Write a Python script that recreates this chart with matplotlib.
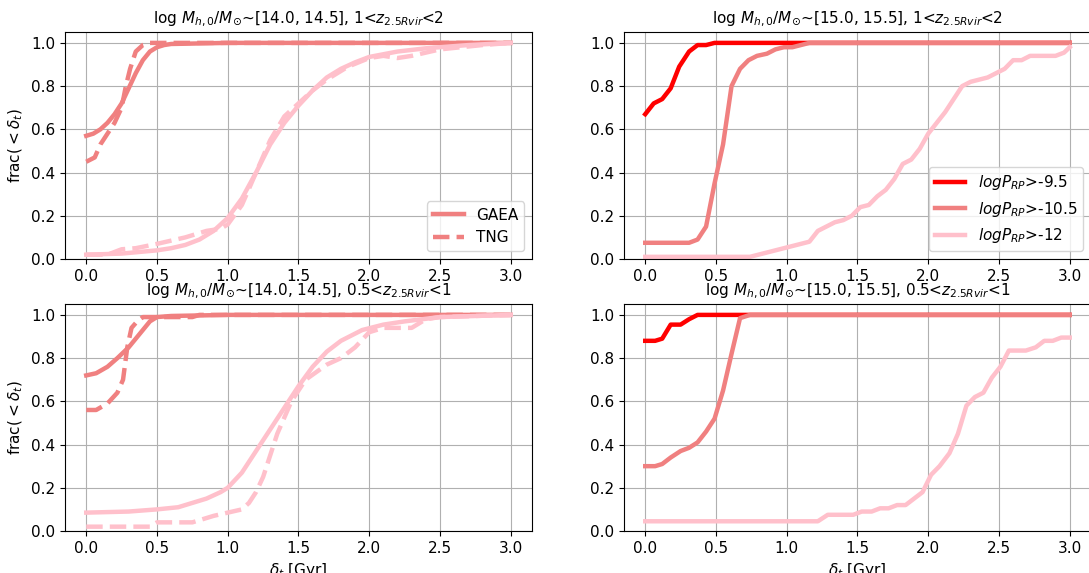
import matplotlib
matplotlib.use("Agg")
import matplotlib.pyplot as plt

plt.rcParams['font.size'] = 11

# ---- top left: logMh 14-14.5, 1<z<2 ----
tl_gaea_hi_x = [0.0, 0.05, 0.1, 0.15, 0.2, 0.25, 0.3, 0.35, 0.4, 0.45, 0.5, 0.55, 0.6, 1.0, 3.0]
tl_gaea_hi_y = [0.57, 0.58, 0.60, 0.63, 0.67, 0.72, 0.79, 0.86, 0.92, 0.96, 0.98, 0.99, 0.995, 1.0, 1.0]
tl_tng_hi_x = [0.0, 0.06, 0.1, 0.15, 0.2, 0.25, 0.28, 0.31, 0.35, 0.4, 0.45, 3.0]
tl_tng_hi_y = [0.45, 0.47, 0.53, 0.58, 0.63, 0.70, 0.80, 0.88, 0.96, 0.99, 1.0, 1.0]
tl_gaea_lo_x = [0.0, 0.25, 0.5, 0.6, 0.7, 0.8, 0.9, 1.0, 1.1, 1.2, 1.3, 1.4, 1.5, 1.6, 1.7, 1.8, 1.9, 2.0, 2.2, 2.4, 2.7, 3.0]
tl_gaea_lo_y = [0.02, 0.025, 0.04, 0.05, 0.065, 0.09, 0.13, 0.19, 0.28, 0.40, 0.53, 0.63, 0.71, 0.78, 0.84, 0.88, 0.91, 0.935, 0.96, 0.975, 0.99, 1.0]
tl_tng_lo_x = [0.0, 0.15, 0.25, 0.35, 0.5, 0.7, 0.85, 0.95, 1.0, 1.1, 1.2, 1.3, 1.4, 1.5, 1.6, 1.7, 1.85, 2.0, 2.1, 2.2, 2.3, 2.5, 2.8, 3.0]
tl_tng_lo_y = [0.02, 0.02, 0.045, 0.05, 0.07, 0.10, 0.13, 0.14, 0.16, 0.25, 0.40, 0.55, 0.66, 0.72, 0.78, 0.83, 0.89, 0.93, 0.94, 0.93, 0.94, 0.97, 0.99, 1.0]

# ---- bottom left: logMh 14-14.5, 0.5<z<1 ----
bl_gaea_hi_x = [0.0, 0.07, 0.15, 0.22, 0.3, 0.35, 0.4, 0.45, 0.5, 0.6, 1.0, 3.0]
bl_gaea_hi_y = [0.72, 0.73, 0.76, 0.80, 0.85, 0.89, 0.93, 0.97, 0.99, 0.995, 1.0, 1.0]
bl_tng_hi_x = [0.0, 0.07, 0.15, 0.22, 0.26, 0.29, 0.32, 0.36, 0.4, 0.75, 0.8, 3.0]
bl_tng_hi_y = [0.56, 0.56, 0.59, 0.64, 0.70, 0.85, 0.94, 0.97, 0.99, 0.99, 1.0, 1.0]
bl_gaea_lo_x = [0.0, 0.3, 0.5, 0.65, 0.75, 0.85, 0.95, 1.0, 1.1, 1.2, 1.3, 1.4, 1.5, 1.6, 1.7, 1.8, 1.95, 2.1, 2.25, 2.5, 3.0]
bl_gaea_lo_y = [0.085, 0.09, 0.10, 0.11, 0.13, 0.15, 0.18, 0.20, 0.27, 0.37, 0.47, 0.57, 0.67, 0.76, 0.83, 0.88, 0.93, 0.955, 0.97, 0.99, 1.0]
bl_tng_lo_x = [0.0, 0.45, 0.5, 0.75, 0.9, 1.1, 1.15, 1.2, 1.25, 1.3, 1.35, 1.45, 1.55, 1.7, 1.8, 1.9, 2.0, 2.1, 2.3, 2.4, 2.5, 3.0]
bl_tng_lo_y = [0.02, 0.02, 0.04, 0.04, 0.07, 0.10, 0.13, 0.18, 0.25, 0.35, 0.45, 0.60, 0.70, 0.77, 0.80, 0.85, 0.92, 0.94, 0.94, 0.98, 0.99, 1.0]

# ---- top right: logMh 15-15.5, 1<z<2 ----
tr_p95_x = [0.0, 0.06, 0.12, 0.18, 0.24, 0.31, 0.37, 0.43, 0.49, 3.0]
tr_p95_y = [0.67, 0.72, 0.74, 0.79, 0.89, 0.96, 0.99, 0.99, 1.0, 1.0]
tr_p105_x = [0.0, 0.31, 0.37, 0.43, 0.49, 0.55, 0.61, 0.67, 0.73, 0.79, 0.86, 0.92, 0.98, 1.04, 1.1, 1.16, 3.0]
tr_p105_y = [0.075, 0.075, 0.09, 0.15, 0.35, 0.53, 0.80, 0.88, 0.92, 0.94, 0.95, 0.97, 0.98, 0.98, 0.99, 1.0, 1.0]
tr_p12_x = [0.0, 0.74, 0.86, 0.98, 1.1, 1.16, 1.22, 1.28, 1.34, 1.4, 1.46, 1.52, 1.58, 1.64, 1.7, 1.76, 1.82,
            1.88, 1.94, 2.0, 2.06, 2.12, 2.18, 2.24, 2.3, 2.36, 2.42, 2.48, 2.54, 2.6, 2.66, 2.72, 2.9, 2.96, 3.0]
tr_p12_y = [0.01, 0.01, 0.03, 0.05, 0.07, 0.08, 0.13, 0.15, 0.17, 0.18, 0.20, 0.24, 0.25, 0.29, 0.32, 0.37, 0.44,
            0.46, 0.51, 0.58, 0.63, 0.68, 0.74, 0.80, 0.82, 0.83, 0.84, 0.86, 0.88, 0.92, 0.92, 0.94, 0.94, 0.955, 0.98]

# ---- bottom right: logMh 15-15.5, 0.5<z<1 ----
br_p95_x = [0.0, 0.07, 0.12, 0.18, 0.25, 0.31, 0.37, 3.0]
br_p95_y = [0.88, 0.88, 0.89, 0.955, 0.955, 0.98, 1.0, 1.0]
br_p105_x = [0.0, 0.07, 0.12, 0.18, 0.25, 0.31, 0.37, 0.43, 0.49, 0.55, 0.61, 0.67, 0.74, 3.0]
br_p105_y = [0.30, 0.30, 0.31, 0.34, 0.37, 0.385, 0.41, 0.46, 0.52, 0.65, 0.82, 0.985, 1.0, 1.0]
br_p12_x = [0.0, 1.22, 1.29, 1.47, 1.53, 1.6, 1.66, 1.72, 1.78, 1.84, 1.9, 1.96, 2.02, 2.08, 2.15, 2.21, 2.27,
            2.33, 2.39, 2.45, 2.51, 2.57, 2.69, 2.76, 2.82, 2.88, 2.94, 3.0]
br_p12_y = [0.045, 0.045, 0.075, 0.075, 0.09, 0.09, 0.105, 0.105, 0.12, 0.12, 0.15, 0.18, 0.26, 0.30, 0.36, 0.45, 0.58,
            0.62, 0.64, 0.71, 0.76, 0.835, 0.835, 0.85, 0.88, 0.88, 0.895, 0.895]

titles = [r'log $M_{h,0}/M_{\odot}$~[14.0, 14.5], 1<$z_{2.5Rvir}$<2',
          r'log $M_{h,0}/M_{\odot}$~[15.0, 15.5], 1<$z_{2.5Rvir}$<2',
          r'log $M_{h,0}/M_{\odot}$~[14.0, 14.5], 0.5<$z_{2.5Rvir}$<1',
          r'log $M_{h,0}/M_{\odot}$~[15.0, 15.5], 0.5<$z_{2.5Rvir}$<1']
prp_labels = [r'$logP_{RP}$>-9.5', r'$logP_{RP}$>-10.5', r'$logP_{RP}$>-12']

lw = 3.2
fig = plt.figure(figsize=(10.89, 5.73), dpi=100)
ax_tl = fig.add_axes([0.0597, 0.548, 0.4288, 0.396])
ax_tr = fig.add_axes([0.573, 0.548, 0.4288, 0.396])
ax_bl = fig.add_axes([0.0597, 0.0733, 0.4288, 0.396])
ax_br = fig.add_axes([0.573, 0.0733, 0.4288, 0.396])

ax_tl.plot(tl_gaea_hi_x, tl_gaea_hi_y, color='lightcoral', lw=lw, label='GAEA')
ax_tl.plot(tl_tng_hi_x, tl_tng_hi_y, color='lightcoral', lw=lw, ls='--', label='TNG')
ax_tl.plot(tl_gaea_lo_x, tl_gaea_lo_y, color='pink', lw=lw)
ax_tl.plot(tl_tng_lo_x, tl_tng_lo_y, color='pink', lw=lw, ls='--')
ax_tl.legend(loc='lower right')

ax_bl.plot(bl_gaea_hi_x, bl_gaea_hi_y, color='lightcoral', lw=lw)
ax_bl.plot(bl_tng_hi_x, bl_tng_hi_y, color='lightcoral', lw=lw, ls='--')
ax_bl.plot(bl_gaea_lo_x, bl_gaea_lo_y, color='pink', lw=lw)
ax_bl.plot(bl_tng_lo_x, bl_tng_lo_y, color='pink', lw=lw, ls='--')

ax_tr.plot(tr_p95_x, tr_p95_y, color='red', lw=lw, label=prp_labels[0])
ax_tr.plot(tr_p105_x, tr_p105_y, color='lightcoral', lw=lw, label=prp_labels[1])
ax_tr.plot(tr_p12_x, tr_p12_y, color='pink', lw=lw, label=prp_labels[2])
ax_tr.legend(loc='lower right')

ax_br.plot(br_p95_x, br_p95_y, color='red', lw=lw)
ax_br.plot(br_p105_x, br_p105_y, color='lightcoral', lw=lw)
ax_br.plot(br_p12_x, br_p12_y, color='pink', lw=lw)

for ax, t in zip([ax_tl, ax_tr, ax_bl, ax_br], titles):
    ax.set_title(t, fontsize=11)
    ax.set_ylim(0, 1.05)
    ax.set_xlim(-0.15, 3.15)
    ax.set_xticks([0.0, 0.5, 1.0, 1.5, 2.0, 2.5, 3.0])
    ax.grid(True)

ax_tl.set_ylabel(r'frac($<\delta_t$)')
ax_bl.set_ylabel(r'frac($<\delta_t$)')
ax_bl.set_xlabel(r'$\delta_t$ [Gyr]')
ax_br.set_xlabel(r'$\delta_t$ [Gyr]')

fig.savefig('out.png', dpi=100)
